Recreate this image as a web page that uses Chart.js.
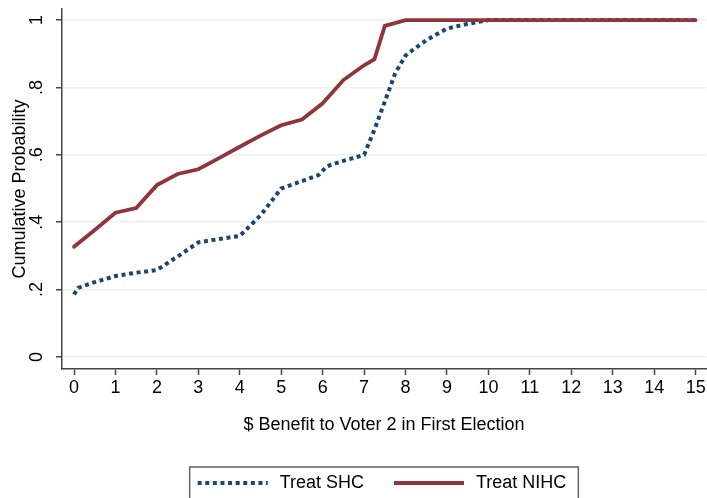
<!DOCTYPE html>
<html><head><meta charset="utf-8">
<script src="https://cdn.jsdelivr.net/npm/chart.js@4.4.1/dist/chart.umd.min.js"></script>
<style>html,body{margin:0;padding:0;background:#fff}#wrap{width:707px;height:498px}</style>
</head><body><div id="wrap"><canvas id="c" width="707" height="498"></canvas></div>
<script>
const xTickValues = [0,1,2,3,4,5,6,7,8,9,10,11,12,13,14,15];
const yTickValues = [0,0.2,0.4,0.6,0.8,1];
const yTickLabels = ['0','.2','.4','.6','.8','1'];
const seriesNames = ['Treat SHC','Treat NIHC'];

const shcBenefit = [0,0.1,0.5,1,1.5,2,2.5,3,3.5,4,4.5,5,5.5,5.9,6.1,6.5,7,7.25,7.5,7.75,8,8.25,8.5,8.75,9,9.5,10,11,12,13,14,15];
const shcCumProb = [0.185,0.205,0.222,0.24,0.25,0.258,0.298,0.34,0.35,0.359,0.42,0.5,0.522,0.54,0.566,0.582,0.6,0.675,0.758,0.842,0.895,0.918,0.94,0.958,0.975,0.989,1,1,1,1,1,1];

const nihcBenefit = [0,0.5,1,1.5,2,2.5,3,3.5,4,4.5,5,5.5,6,6.5,7,7.25,7.5,8,9,10,11,12,13,14,15];
const nihcCumProb = [0.327,0.377,0.428,0.442,0.51,0.543,0.557,0.59,0.624,0.657,0.688,0.705,0.753,0.822,0.866,0.884,0.983,1,1,1,1,1,1,1,1];

const FONT = '"Liberation Sans", Arial, sans-serif';
const toPoints = (xs, ys) => xs.map((x, i) => ({x, y: ys[i]}));

const stataLegend = {
  id: 'stataLegend',
  afterDraw(chart) {
    const ctx = chart.ctx, ca = chart.chartArea;
    ctx.save();
    ctx.font = '18px ' + FONT;
    const items = chart.data.datasets.map(ds => ({label: ds.label, color: ds.borderColor, dash: ds.borderDash || [], width: ds.borderWidth}));
    const sample = 70, gap = 12, between = 30, padL = 8, padR = 12;
    const widths = items.map(it => ctx.measureText(it.label).width);
    const total = padL + padR + widths.reduce((a, w) => a + sample + gap + w, 0) + between * (items.length - 1);
    const left = (ca.left + ca.right) / 2 - total / 2;
    const top = 467, cy = 483;
    ctx.strokeStyle = '#666';
    ctx.lineWidth = 1.5;
    ctx.strokeRect(left, top, total, 60);
    let x = left + padL;
    items.forEach((it, i) => {
      ctx.beginPath();
      ctx.setLineDash(it.dash);
      ctx.lineCap = 'butt';
      ctx.strokeStyle = it.color;
      ctx.lineWidth = it.width;
      ctx.moveTo(x, cy);
      ctx.lineTo(x + sample, cy);
      ctx.stroke();
      ctx.setLineDash([]);
      x += sample + gap;
      ctx.fillStyle = '#000';
      ctx.textBaseline = 'middle';
      ctx.textAlign = 'left';
      ctx.fillText(it.label, x, cy);
      x += widths[i] + between;
    });
    ctx.restore();
  }
};

new Chart(document.getElementById('c'), {
  type: 'line',
  data: {
    datasets: [
      {label: seriesNames[0], data: toPoints(shcBenefit, shcCumProb), borderColor: '#1a476f', borderWidth: 4, borderDash: [4, 3.6], pointRadius: 0, tension: 0, fill: false, order: 1},
      {label: seriesNames[1], data: toPoints(nihcBenefit, nihcCumProb), borderColor: '#90353b', borderWidth: 3.8, borderCapStyle: 'round', pointRadius: 0, tension: 0, fill: false, order: 0}
    ]
  },
  options: {
    responsive: false,
    animation: false,
    devicePixelRatio: 1,
    layout: {padding: {top: 9, right: 1, left: 0, bottom: 0}},
    plugins: {legend: {display: false}, tooltip: {enabled: false}},
    scales: {
      x: {
        type: 'linear', min: -0.29, max: 15.25,
        afterBuildTicks: s => { s.ticks = xTickValues.map(v => ({value: v})); },
        afterFit: s => { s.height = 129; s.paddingLeft = 0; s.paddingRight = 0; },
        border: {color: '#444', width: 1.5},
        grid: {drawOnChartArea: false, drawTicks: true, tickLength: 6, tickColor: '#444', tickWidth: 1.5},
        ticks: {font: {family: FONT, size: 18}, color: '#000', padding: 2, maxRotation: 0, autoSkip: false, callback: v => String(v)},
        title: {display: true, text: '$ Benefit to Voter 2 in First Election', font: {family: FONT, size: 18}, color: '#000', padding: {top: 0, bottom: 62}}
      },
      y: {
        type: 'linear', min: -0.036, max: 1.033,
        afterBuildTicks: s => { s.ticks = yTickValues.map(v => ({value: v})); },
        afterFit: s => { s.width = 62; s.paddingTop = 0; s.paddingBottom = 0; },
        border: {color: '#444', width: 1.5},
        grid: {color: '#eaf2f3', lineWidth: 1.5, drawTicks: true, tickLength: 6, tickColor: '#444', tickWidth: 1.5},
        ticks: {font: {family: FONT, size: 18}, color: '#000', padding: 11, minRotation: 90, maxRotation: 90, crossAlign: 'center',
          callback: v => { const i = yTickValues.findIndex(t => Math.abs(t - v) < 1e-9); return i >= 0 ? yTickLabels[i] : ''; }},
        title: {display: true, text: 'Cumulative Probability', font: {family: FONT, size: 18}, color: '#000', padding: {top: 9, bottom: 0}}
      }
    }
  },
  plugins: [stataLegend]
});
</script></body></html>
